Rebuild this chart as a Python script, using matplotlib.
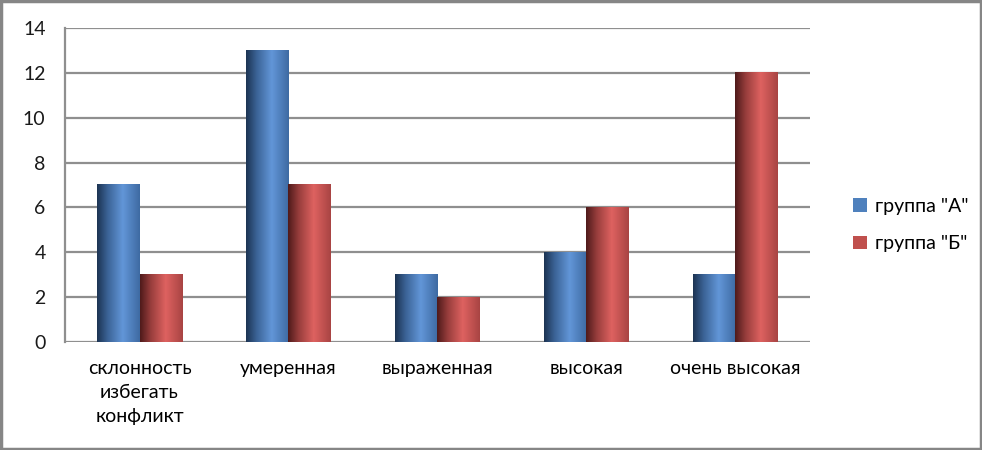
import numpy as np
import matplotlib
matplotlib.use("Agg")
import matplotlib.pyplot as plt
from matplotlib.colors import LinearSegmentedColormap
from matplotlib.patches import Rectangle, Patch

categories = ["склонность\nизбегать\nконфликт", "умеренная", "выраженная", "высокая", "очень высокая"]
group_a = [7, 13, 3, 4, 3]
group_b = [3, 7, 2, 6, 12]
series_names = ['группа "А"', 'группа "Б"']

plt.rcParams['font.family'] = ['Lato', 'DejaVu Sans']

blue_cmap = LinearSegmentedColormap.from_list(
    "blue", [(0, "#1c3352"), (0.25, "#3b6396"), (0.6, "#6296d8"), (1, "#3e6aa2")])
red_cmap = LinearSegmentedColormap.from_list(
    "red", [(0, "#4e1a1a"), (0.25, "#973d3c"), (0.6, "#de6260"), (1, "#a84443")])

fig = plt.figure(figsize=(9.82, 4.5), dpi=100)
ax = fig.add_axes([0.0662, 0.24, 0.7586, 0.6978])

x = np.arange(len(categories))
w = 0.282
grad = np.linspace(0, 1, 256).reshape(1, -1)

for vals, cmap, off in [(group_a, blue_cmap, -w / 2), (group_b, red_cmap, w / 2)]:
    for xi, v in zip(x, vals):
        ax.imshow(grad, cmap=cmap, aspect="auto", interpolation="bilinear",
                  extent=(xi + off - w / 2, xi + off + w / 2, 0, v), zorder=3)

fs = 14
ax.set_xlim(-0.5, len(categories) - 0.5)
ax.set_ylim(0, 14)
ax.set_yticks(range(0, 15, 2))
ax.set_xticks(x)
ax.set_xticklabels(categories, fontsize=fs, linespacing=1.5)
ax.tick_params(axis="y", labelsize=fs, length=0, pad=14)
ax.tick_params(axis="x", length=0, pad=13)
for lab in ax.get_yticklabels():
    lab.set_color("#1a1a1a")

ax.yaxis.grid(True, color="#8f8f8f", linewidth=1.6, zorder=0)
ax.set_axisbelow(True)
for s in ["top", "right", "bottom"]:
    ax.spines[s].set_visible(False)
ax.spines["left"].set_color("#8f8f8f")
ax.spines["left"].set_linewidth(1.6)

handles = [Patch(facecolor="#4f81bd"), Patch(facecolor="#c0504d")]
fig.legend(handles, series_names, loc="center left", bbox_to_anchor=(0.851, 0.5),
           frameon=False, fontsize=fs, handlelength=0.7, handleheight=0.7,
           handletextpad=0.4, labelspacing=1.05)

fig.patches.append(Rectangle((0.0015, 0.003), 0.997, 0.994, transform=fig.transFigure,
                             fill=False, edgecolor="#868686", linewidth=2.5))

fig.savefig("out.png", dpi=100)
